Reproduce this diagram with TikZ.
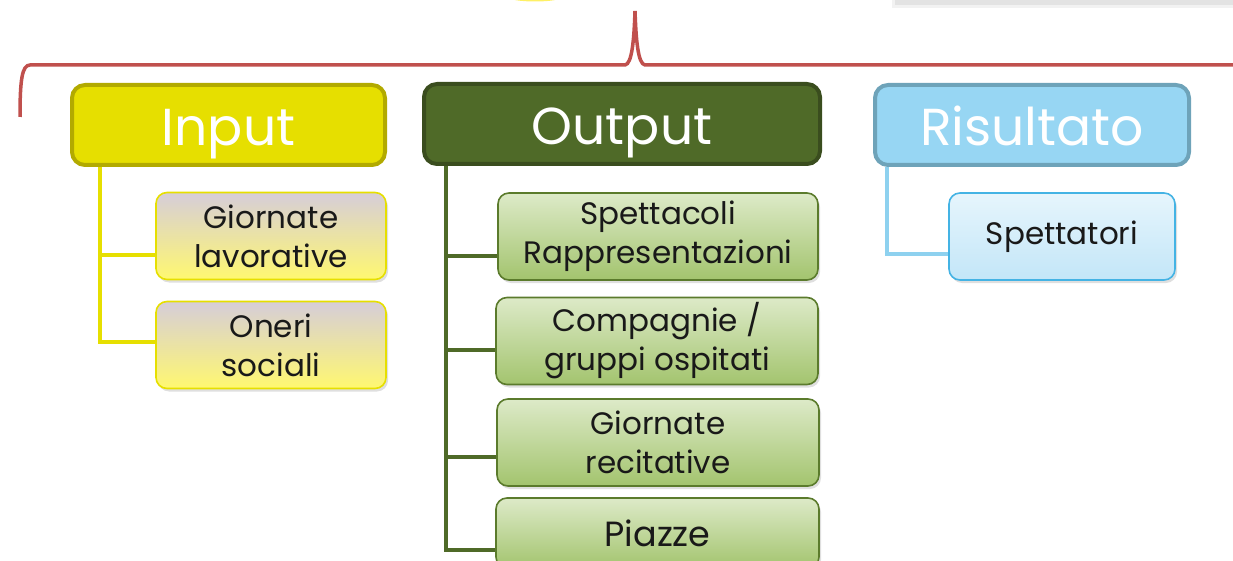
\documentclass[tikz,border=0pt]{standalone}
\usepackage{fontspec}
\setmainfont{Poppins}
\usepackage{xcolor}
\usepackage{tikz}
\usetikzlibrary{positioning,shadows}
\definecolor{bracered}{HTML}{C0504D}
\definecolor{inyellow}{HTML}{E6DF00}
\definecolor{inyellowd}{HTML}{B2AA00}
\definecolor{outgreen}{HTML}{4F6A28}
\definecolor{outgreend}{HTML}{3A4D1E}
\definecolor{resblue}{HTML}{97D6F3}
\definecolor{resblued}{HTML}{6EA3B9}
\definecolor{resline}{HTML}{8ED1EF}
\definecolor{ytop}{HTML}{D6CDD9}
\definecolor{ymid}{HTML}{EDE8A6}
\definecolor{ybot}{HTML}{FFF870}
\definecolor{gtop}{HTML}{DDEAC8}
\definecolor{gbot}{HTML}{A3C46E}
\definecolor{gline}{HTML}{5B7B2C}
\definecolor{btop}{HTML}{E6F5FC}
\definecolor{bbot}{HTML}{C3E6F8}
\definecolor{bline}{HTML}{44B3E4}

\begin{document}
\begin{tikzpicture}[x=1pt,y=-1pt,
  head/.style={draw, rounded corners=13pt, line width=4pt, inner sep=0pt, minimum height=80pt,
    text=white, text height=42pt, text depth=0pt, font=\fontsize{52}{52}\selectfont},
  item/.style={draw, rounded corners=11pt, line width=1.6pt, inner sep=0pt, minimum height=87pt,
    align=center, text=black!90, font=\fontsize{31}{39}\selectfont,
    drop shadow={shadow xshift=2pt, shadow yshift=-3pt, opacity=0.25}},
  yitem/.style={draw=inyellow, top color=ytop, middle color=ymid, bottom color=ybot},
  gitem/.style={draw=gline, top color=gtop, bottom color=gbot},
  bitem/.style={draw=bline, top color=btop, bottom color=bbot},
  link/.style={line width=4pt}]
\useasboundingbox (0,0) rectangle (1233,561);
\clip (0,0) rectangle (1233,561);
% pieces cut by the frame
\fill[yellow!90!orange!60!white] (535,-5) ellipse (32 and 6.5);
\fill[gray!10] (892,-10) rectangle (1240,8);
\fill[gray!22] (895,-10) rectangle (1240,5);
% brace
\draw[bracered, line width=3.5pt] (20,117) .. controls (20,80) and (22,65) .. (30,65) -- (625,65)
  .. controls (632,64) and (634,40) .. (635,11) .. controls (636,40) and (638,64) .. (645,65) -- (1240,65);
% headers
\node[head, fill=inyellow, draw=inyellowd, minimum width=313pt] (in) at (228.5,125) {Input};
\node[head, fill=outgreen, draw=outgreend, minimum width=396pt] (out) at (622,124) {Output};
\node[head, fill=resblue, draw=resblued, minimum width=314pt] (res) at (1032,125) {Risultato};
% items
\node[item, yitem, minimum width=230pt] (gl) at (271,236) {Giornate\\lavorative};
\node[item, yitem, minimum width=230pt] (os) at (271,345) {Oneri\\sociali};
\node[item, gitem, minimum width=320pt] (sr) at (658,236.5) {Spettacoli\\Rappresentazioni};
\node[item, gitem, minimum width=322pt] (cg) at (657,341) {Compagnie /\\gruppi ospitati};
\node[item, gitem, minimum width=322pt] (gr) at (658,442.5) {Giornate\\recitative};
\node[item, gitem, minimum width=323pt, minimum height=70pt, font=\fontsize{35}{35}\selectfont] (pz) at (657.5,533) {Piazze};
\node[item, bitem, minimum width=226pt] (sp) at (1062,236.5) {Spettatori};
% connectors
\foreach \n/\dy in {gl/-19,os/3}
  \draw[link, inyellow] ([xshift=30pt]in.south west) |- ([yshift=\dy pt]\n.west);
\foreach \n/\dy in {sr/-19.5,cg/-9,gr/-14.5,pz/-17}
  \draw[link, outgreen] ([xshift=24pt]out.south west) |- ([yshift=\dy pt]\n.west);
\draw[link, resline] ([xshift=14pt]res.south west) |- ([yshift=-17.5pt]sp.west);
\end{tikzpicture}
\end{document}
